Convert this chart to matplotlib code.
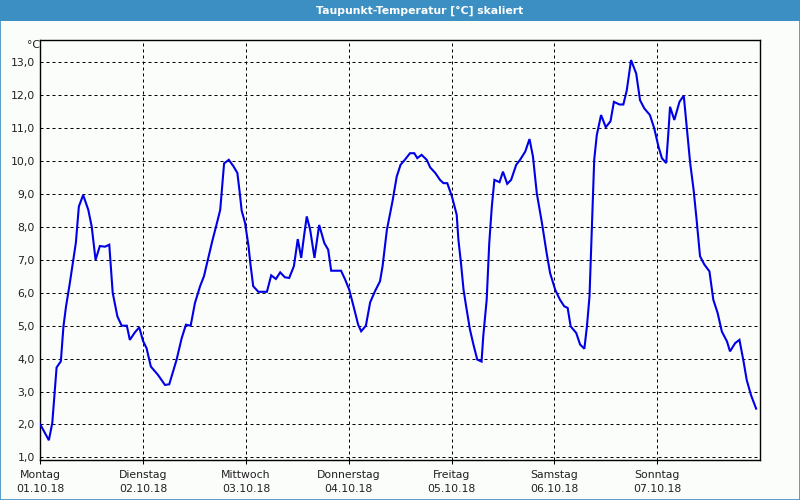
import matplotlib
matplotlib.use('Agg')
import matplotlib.pyplot as plt
from matplotlib.patches import Rectangle

# hours since Mon 01.10.18 00:00 and dew point in degC
hours = [0.0, 2.0, 2.8, 3.8, 4.8, 5.4, 6.0, 6.9, 7.7, 8.3, 9.0, 10.0, 11.2, 12.0, 12.9,
         13.9, 15.1, 16.1, 16.9, 18.0, 19.0, 20.2, 20.9, 22.1, 23.1, 24.0, 24.8, 25.8,
         27.5, 29.1, 30.1, 31.8, 33.0, 34.0, 35.1, 36.1, 37.3, 38.2, 39.2, 40.2, 41.0,
         42.0, 42.9, 44.0, 45.1, 46.0, 46.5, 47.0, 47.8, 48.6, 49.1, 49.7, 50.9, 52.9,
         53.9, 55.0, 56.0, 57.1, 58.1, 59.2, 60.1, 60.9, 61.6, 62.2, 63.0, 64.0, 65.1,
         66.3, 67.2, 67.9, 70.2, 71.1, 72.1, 73.1, 74.2, 74.9, 76.0, 77.0, 78.1, 79.3,
         79.9, 80.9, 82.2, 83.2, 84.1, 85.1, 86.3, 87.3, 88.0, 89.0, 90.2, 91.0, 92.2,
         93.3, 94.1, 95.0, 96.1, 97.2, 97.6, 98.2, 98.8, 99.4, 100.3, 101.1, 102.0,
         103.0, 103.4, 104.2, 104.8, 105.4, 106.0, 107.2, 108.0, 109.0, 109.9, 111.1,
         112.0, 113.2, 114.2, 115.0, 115.9, 117.1, 118.2, 119.0, 120.2, 121.3, 122.3,
         123.1, 123.8, 125.1, 126.0, 127.0, 127.6, 128.2, 128.7, 129.3, 129.9, 130.9,
         132.0, 133.1, 133.9, 135.2, 136.1, 136.9, 137.9, 139.1, 140.0, 141.0, 142.3,
         143.3, 144.3, 145.1, 146.1, 146.6, 147.0, 148.0, 149.2, 150.2, 150.9, 151.7,
         152.5, 153.2, 154.0, 155.0, 156.2, 157.1, 158.1, 159.1, 160.3, 161.0, 162.2,
         163.2, 164.1, 164.9, 165.9, 167.1]
dewpoint = [2.0, 1.52, 2.05, 3.73, 3.92, 4.97, 5.58, 6.3, 7.0, 7.52, 8.62, 8.97, 8.52, 8.01,
            7.0, 7.42, 7.4, 7.46, 6.0, 5.28, 5.0, 5.0, 4.57, 4.8, 4.95, 4.53, 4.32, 3.76,
            3.5, 3.2, 3.22, 3.96, 4.62, 5.03, 5.0, 5.69, 6.2, 6.5, 7.05, 7.6, 8.0, 8.52,
            9.93, 10.04, 9.84, 9.64, 9.1, 8.5, 8.12, 7.42, 6.82, 6.2, 6.03, 6.03, 6.53,
            6.42, 6.62, 6.47, 6.45, 6.81, 7.63, 7.06, 7.76, 8.32, 7.91, 7.06, 8.06, 7.51,
            7.31, 6.67, 6.67, 6.42, 6.1, 5.6, 5.03, 4.83, 5.0, 5.71, 6.04, 6.35, 6.81,
            7.91, 8.77, 9.53, 9.89, 10.04, 10.24, 10.24, 10.09, 10.19, 10.04, 9.81, 9.64,
            9.43, 9.33, 9.33, 8.92, 8.37, 7.61, 6.9, 6.09, 5.59, 4.88, 4.43, 3.97, 3.91,
            4.68, 5.79, 7.51, 8.62, 9.43, 9.36, 9.68, 9.31, 9.43, 9.89, 10.04, 10.29,
            10.67, 10.14, 9.02, 8.12, 7.2, 6.6, 6.09, 5.79, 5.59, 5.54, 4.98, 4.78, 4.43,
            4.3, 4.98, 5.89, 7.81, 10.04, 10.79, 11.4, 11.03, 11.21, 11.8, 11.72, 11.72,
            12.15, 13.07, 12.66, 11.85, 11.6, 11.4, 11.0, 10.44, 10.09, 9.94, 10.84,
            11.65, 11.25, 11.8, 11.99, 11.04, 9.94, 9.13, 8.22, 7.11, 6.86, 6.65, 5.79,
            5.39, 4.82, 4.52, 4.22, 4.47, 4.57, 3.96, 3.35, 2.89, 2.48]

days = ['Montag', 'Dienstag', 'Mittwoch', 'Donnerstag', 'Freitag', 'Samstag', 'Sonntag']
dates = ['01.10.18', '02.10.18', '03.10.18', '04.10.18', '05.10.18', '06.10.18', '07.10.18']
yticks = list(range(1, 14))

bg = '#fbfdfb'
bar = '#3b8fc3'

fig = plt.figure(figsize=(8, 5), dpi=100, facecolor=bg)
ax = fig.add_axes([40.3 / 800, 40 / 500, (760 - 40.3) / 800, (460 - 40.3) / 500])
ax.set_facecolor(bg)

ax.plot(hours, dewpoint, color='#0000e6', lw=1.5, solid_joinstyle='miter', zorder=3)

ax.set_xlim(0, 168)
ax.set_ylim(0.92, 13.67)

# dotted grid, ~3px dash / 3px gap
for v in yticks:
    ax.axhline(v, color='black', lw=0.72, ls=(0, (3, 3)), zorder=1)
for d in range(1, 7):
    ax.axvline(d * 24, color='black', lw=0.72, ls=(0, (3, 3)), zorder=1)

ax.set_yticks(yticks)
ax.set_yticklabels(['%d,0' % v for v in yticks], fontsize=7.8, color='#202020')
ax.set_xticks([d * 24 for d in range(7)])
ax.set_xticklabels([a + '\n' + b for a, b in zip(days, dates)], fontsize=7.8,
                   color='#202020', linespacing=1.55)
ax.tick_params(axis='y', length=0, pad=4)
ax.tick_params(axis='x', length=3, width=0.75, direction='out', pad=4)
for s in ax.spines.values():
    s.set_color('black')
    s.set_linewidth(1.0)

fig.text(33 / 800, 1 - 45 / 500, '°C', fontsize=7.8, color='#202020', ha='center', va='center')

# title bar and frame
fig.patches.append(Rectangle((0, 1 - 20.5 / 500), 1, 20.5 / 500, transform=fig.transFigure,
                             facecolor=bar, edgecolor='none', zorder=0))
fig.patches.append(Rectangle((0.0006, 0.001), 0.9988, 0.998, transform=fig.transFigure,
                             facecolor='none', edgecolor=bar, lw=1.2, zorder=5))
fig.text(420 / 800, 1 - 10.5 / 500, 'Taupunkt-Temperatur [°C] skaliert', color='white',
         fontsize=7.8, fontweight='bold', ha='center', va='center')

fig.savefig('out.png', dpi=100, facecolor=bg)
